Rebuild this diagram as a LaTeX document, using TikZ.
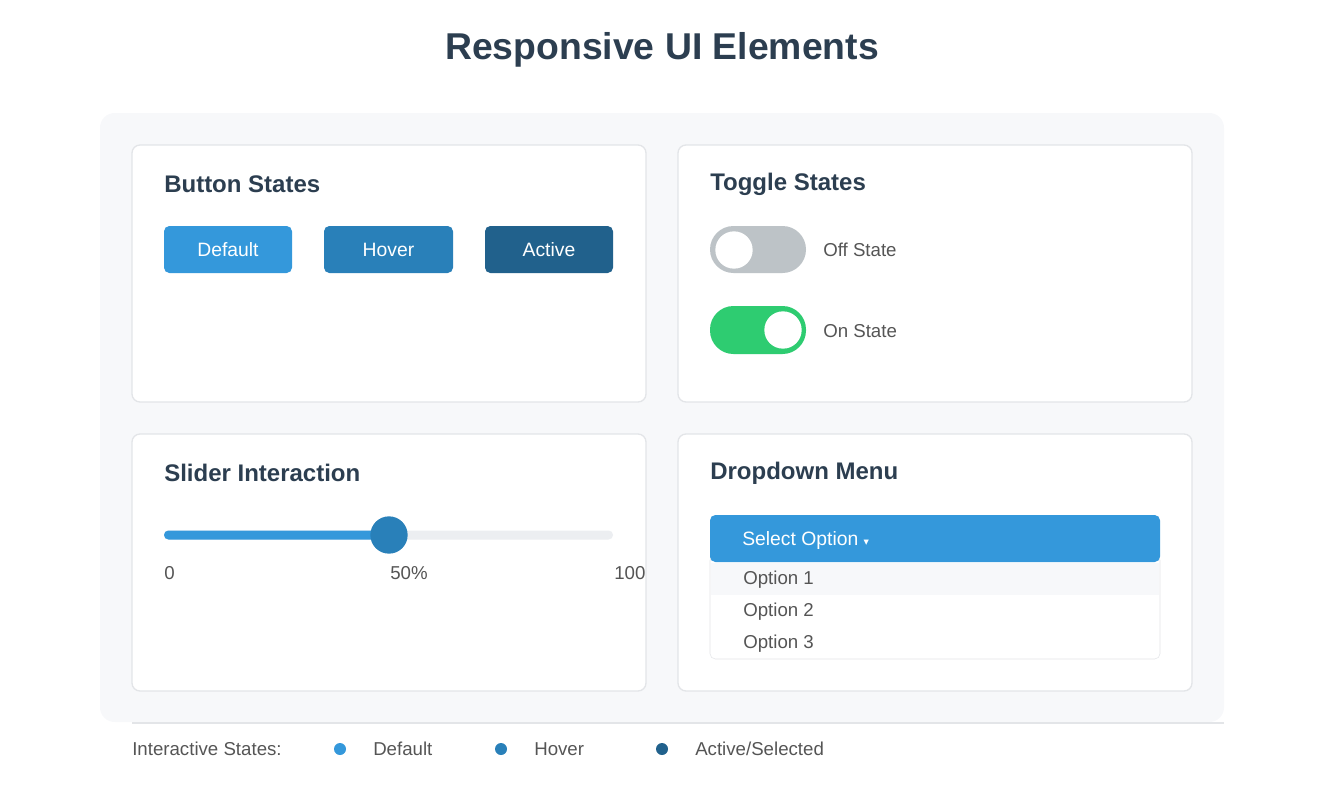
\documentclass[tikz,border=0pt]{standalone}
\usepackage{fontspec}
\setmainfont{Liberation Sans}
\newfontfamily\symfont{DejaVu Sans}
\definecolor{dark}{HTML}{2C3E50}
\definecolor{cblue}{HTML}{3498DB}
\definecolor{chover}{HTML}{2980B9}
\definecolor{cactive}{HTML}{21618C}
\definecolor{panel}{HTML}{F7F8FA}
\definecolor{cborder}{HTML}{E3E5E8}
\definecolor{txt}{HTML}{555555}
\definecolor{cgray}{HTML}{BDC3C7}
\definecolor{cgreen}{HTML}{2ECC71}
\definecolor{track}{HTML}{ECEEF1}
\begin{document}
\begin{tikzpicture}[x=0.75pt,y=-0.75pt,
  card/.style={draw=cborder,line width=1pt,fill=white,rounded corners=6pt},
  ctitle/.style={anchor=west,inner sep=0pt,font=\fontsize{18}{21}\selectfont\bfseries,text=dark},
  btn/.style={rounded corners=4pt},
  btxt/.style={text=white,font=\fontsize{14.5}{17}\selectfont},
  lbl/.style={anchor=west,inner sep=0pt,text=txt,font=\fontsize{14}{17}\selectfont},
  dot/.style={circle,inner sep=0pt,minimum size=9pt}]
\useasboundingbox (0,0) rectangle (1324,796);
\node (title) at (662,50) {\fontsize{28}{33}\selectfont\bfseries\color{dark}Responsive UI Elements};
\fill[panel,rounded corners=11pt] (100,113) rectangle (1224,722);
\draw[card] (132,145) rectangle (646,402);
\draw[card] (678,145) rectangle (1192,402);
\draw[card] (132,434) rectangle (646,691);
\draw[card] (678,434) rectangle (1192,691);
\node[ctitle] (t1) at (164,184) {Button States};
\node[ctitle] (t2) at (710,184) {Toggle States};
\node[ctitle] (t3) at (164,473) {Slider Interaction};
\node[ctitle] (t4) at (710,473) {Dropdown Menu};
% buttons
\fill[btn,cblue] (164,226) rectangle (292,273);
\fill[btn,chover] (324,226) rectangle (453,273);
\fill[btn,cactive] (485,226) rectangle (613,273);
\node[btxt] (b1) at (228,250) {Default};
\node[btxt] (b2) at (388.5,250) {Hover};
\node[btxt] (b3) at (549,250) {Active};
% toggles
\fill[cgray,rounded corners=17.6pt] (710,226) rectangle (806,273);
\fill[white] (734,250) circle (14pt);
\node[lbl] (off) at (823,250) {Off State};
\fill[cgreen,rounded corners=17.6pt] (710,306) rectangle (806,354);
\fill[white] (783,330) circle (14pt);
\node[lbl] (on) at (823,331) {On State};
% slider
\fill[track,rounded corners=3.3pt] (164,530.5) rectangle (613,539.5);
\fill[cblue,rounded corners=3.3pt] (164,530.5) rectangle (389,539.5);
\fill[chover] (389,535) circle (14pt);
\node[lbl] (s0) at (164,573) {0};
\node[text=txt,font=\fontsize{14}{17}\selectfont] (s50) at (409,573) {50\%};
\node[lbl] (s100) at (614,573) {100};
% dropdown
\draw[cborder,fill=white,rounded corners=4pt] (710,555) rectangle (1160,659);
\fill[panel] (711,563) rectangle (1159,595);
\fill[cblue,rounded corners=4pt] (710,515) rectangle (1160,562);
\node[anchor=west,inner sep=0pt,btxt] (sel) at (742,540) {Select Option {\symfont\fontsize{8}{10}\selectfont ▾}};
\node[lbl] (o1) at (743,580) {Option 1};
\node[lbl] (o2) at (743,612) {Option 2};
\node[lbl] (o3) at (743,644) {Option 3};
% legend
\draw[cborder,line width=1pt] (132,723) -- (1224,723);
\node[lbl] (lg) at (132,749) {Interactive States:};
\node[dot,fill=cblue] (d1) at (340,749) {};
\node[lbl] (l1) at (373,749) {Default};
\node[dot,fill=chover] (d2) at (501,749) {};
\node[lbl] (l2) at (534,749) {Hover};
\node[dot,fill=cactive] (d3) at (662,749) {};
\node[lbl] (l3) at (695,749) {Active/Selected};
\end{tikzpicture}
\end{document}
